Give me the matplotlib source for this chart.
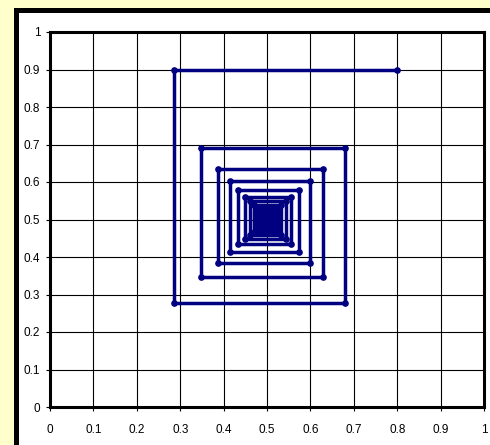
import numpy as np
import matplotlib
matplotlib.use("Agg")
import matplotlib.pyplot as plt
from matplotlib.patches import Rectangle

# x levels visited in turn (each step changes one coordinate)
x_levels = [0.800, 0.286, 0.680, 0.349, 0.630, 0.388, 0.598, 0.415, 0.574, 0.433,
            0.556, 0.449, 0.543, 0.460, 0.533, 0.469, 0.526, 0.475, 0.521, 0.480,
            0.517, 0.484, 0.514, 0.487, 0.511, 0.490, 0.509, 0.492, 0.507, 0.494,
            0.506, 0.495, 0.505, 0.496, 0.504, 0.497, 0.503, 0.498, 0.502]
y_levels = [0.900, 0.278, 0.691, 0.348, 0.636, 0.385, 0.604, 0.414, 0.579, 0.434,
            0.561, 0.449, 0.548, 0.460, 0.539, 0.468, 0.532, 0.474, 0.527, 0.479,
            0.522, 0.483, 0.519, 0.486, 0.516, 0.489, 0.513, 0.491, 0.511, 0.493,
            0.509, 0.494, 0.508, 0.495, 0.506, 0.496, 0.505, 0.497, 0.504]
ticks = [0, 0.1, 0.2, 0.3, 0.4, 0.5, 0.6, 0.7, 0.8, 0.9, 1]
tick_labels = ["0", "0.1", "0.2", "0.3", "0.4", "0.5", "0.6", "0.7", "0.8", "0.9", "1"]

# staircase path: (x0,y0) -> (x1,y0) -> (x1,y1) -> (x2,y1) ...
xs = np.repeat(x_levels, 2)[1:]
ys = np.repeat(y_levels, 2)[:len(xs)]

plt.rcParams['font.family'] = ['Liberation Sans', 'DejaVu Sans']

fig = plt.figure(figsize=(4.9, 4.45), dpi=100)
fig.patch.set_facecolor("#FFFFCC")

# white chart area with heavy black frame
frame = Rectangle((15.5 / 490, -0.1), 1.2, 1 - 10.5 / 445 + 0.1,
                  transform=fig.transFigure, facecolor="white",
                  edgecolor="black", linewidth=3.6, zorder=-5)
fig.add_artist(frame)

ax = fig.add_axes([50 / 490, 1 - 407 / 445, 434 / 490, 375 / 445])
ax.set_zorder(1)
ax.set_facecolor("white")
ax.plot(xs, ys, color="#000080", linewidth=2.5, marker="o", markersize=3.8,
        zorder=3, clip_on=False)

ax.set_xlim(0, 1)
ax.set_ylim(0, 1)
ax.set_xticks(ticks)
ax.set_xticklabels(tick_labels)
ax.set_yticks(ticks)
ax.set_yticklabels(tick_labels)
ax.grid(True, color="black", linewidth=0.8)
ax.tick_params(direction="out", length=3, width=0.8, labelsize=8.5)
ax.tick_params(axis="x", pad=9)
ax.tick_params(axis="y", pad=4)
for s in ax.spines.values():
    s.set_linewidth(2.2)
    s.set_color("black")

fig.savefig("out.png", dpi=100, facecolor=fig.get_facecolor())
